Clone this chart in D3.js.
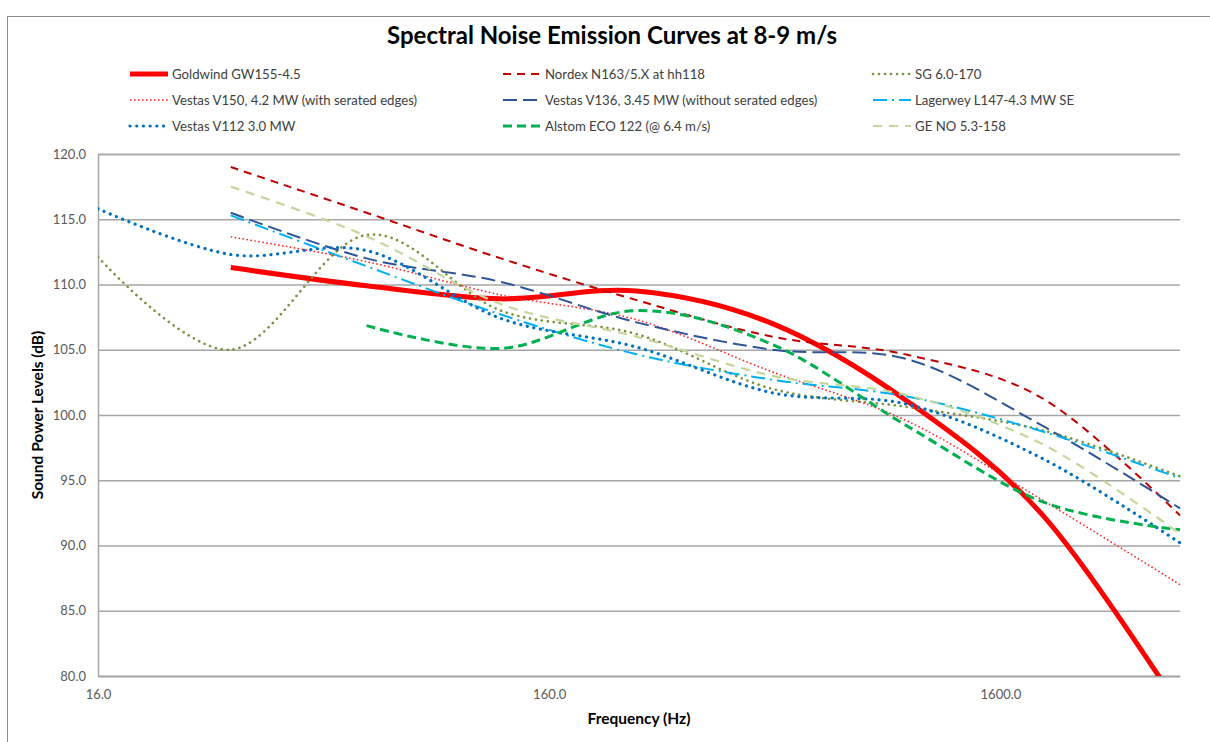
<!DOCTYPE html>
<html>
<head>
<meta charset="utf-8">
<script src="https://cdn.jsdelivr.net/npm/d3@7"></script>
<style>
  html, body { margin: 0; padding: 0; background: #fff; }
  svg { display: block; }
  text { font-family: Lato, "Open Sans", sans-serif; }
</style>
</head>
<body>
<svg id="chart" width="1210" height="742"></svg>
<script>
// ---------- data ----------
const frequencies = [16, 31.5, 63, 125, 250, 500, 1000, 2000, 4000];
const xTickValues = [16, 160, 1600];
const yTickValues = [80, 85, 90, 95, 100, 105, 110, 115, 120];

const seriesNames = [
  "Goldwind GW155-4.5",
  "Nordex N163/5.X at hh118",
  "SG 6.0-170",
  "Vestas V150, 4.2 MW (with serated edges)",
  "Vestas V136, 3.45 MW (without serated edges)",
  "Lagerwey L147-4.3 MW SE",
  "Vestas V112 3.0 MW",
  "Alstom ECO 122 (@ 6.4 m/s)",
  "GE NO 5.3-158"
];

const goldwind = [null, 111.3, 109.9, 108.9, 109.5, 107.0, 101.0, 92.2, 77.5];
const nordex   = [null, 119.0, 115.5, 112.0, 108.8, 106.0, 104.6, 101.2, 92.3];
const sg       = [112.1, 105.0, 113.8, 108.0, 106.2, 102.0, 100.6, 98.8, 95.3];
const v150     = [null, 113.65, 111.75, 109.2, 107.3, 103.3, 99.5, 93.4, 87.0];
const v136     = [null, 115.5, 112.0, 110.2, 107.1, 105.0, 104.25, 99.1, 92.85];
const lagerwey = [null, 115.3, 111.4, 107.7, 104.65, 102.7, 101.4, 98.7, 95.15];
const v112     = [115.8, 112.3, 112.6, 107.4, 105.2, 101.7, 100.8, 96.6, 90.2];
const alstom   = [null, null, 106.85, 105.1, 108.0, 105.4, 99.1, 93.3, 91.2];
const geNO     = [null, 117.5, 113.7, 108.5, 106.0, 103.0, 101.5, 97.7, 90.9];

const seriesValues = [goldwind, nordex, sg, v150, v136, lagerwey, v112, alstom, geNO];

// ---------- styles ----------
const styles = [
  { color: "#FF0000", width: 5,   dash: null,            cap: "butt"  },
  { color: "#C00000", width: 2,   dash: "8,6",           cap: "butt"  },
  { color: "#77933C", width: 2.6, dash: "0.1,5.9",       cap: "round" },
  { color: "#FF2020", width: 1.5, dash: "1.6,2.4",       cap: "butt"  },
  { color: "#2F5597", width: 2,   dash: "14,6",          cap: "butt"  },
  { color: "#00B0F0", width: 2,   dash: "14,5,2,5",      cap: "butt"  },
  { color: "#0070C0", width: 3.2, dash: "0.1,6.6",       cap: "round" },
  { color: "#00B050", width: 3,   dash: "9,5",           cap: "butt"  },
  { color: "#C3D69B", width: 2.2, dash: "9,7",           cap: "butt"  }
];

// ---------- layout ----------
const svg = d3.select("#chart");
const plot = { left: 98, right: 1180, top: 154, bottom: 676 };

const x = d3.scaleLog().domain([16, 4000]).range([plot.left, plot.right]);
const y = d3.scaleLinear().domain([80, 120]).range([plot.bottom, plot.top]);

// chart area border
svg.append("rect")
  .attr("x", 7.5).attr("y", 16.5)
  .attr("width", 1230).attr("height", 760)
  .attr("fill", "none").attr("stroke", "#8c8c8c").attr("stroke-width", 1);

// title
svg.append("text")
  .attr("x", 612).attr("y", 44)
  .attr("text-anchor", "middle")
  .attr("font-size", 24).attr("font-weight", "bold").attr("fill", "#000")
  .text("Spectral Noise Emission Curves at 8-9 m/s");

// gridlines + axes
const yAxis = d3.axisLeft(y).tickValues(yTickValues).tickFormat(d3.format(".1f"))
  .tickSize(-(plot.right - plot.left)).tickPadding(12);
const gy = svg.append("g").attr("transform", `translate(${plot.left},0)`).call(yAxis);
gy.select(".domain").attr("stroke", "#a6a6a6").attr("stroke-width", 1.5);
gy.selectAll(".tick line").attr("stroke", "#a6a6a6").attr("stroke-width", 1.5);
gy.selectAll(".tick text").attr("font-size", 13).attr("fill", "#595959")
  .attr("font-family", "Lato, sans-serif");

const xAxis = d3.axisBottom(x).tickValues(xTickValues).tickFormat(d3.format(".1f"))
  .tickSize(0).tickPadding(14);
const gx = svg.append("g").attr("transform", `translate(0,${plot.bottom})`).call(xAxis);
gx.select(".domain").attr("stroke", "#a6a6a6").attr("stroke-width", 1.5);
gx.selectAll(".tick text").attr("font-size", 13).attr("fill", "#595959")
  .attr("font-family", "Lato, sans-serif");

// axis titles
svg.append("text")
  .attr("transform", `translate(43,${(plot.top + plot.bottom) / 2}) rotate(-90)`)
  .attr("text-anchor", "middle")
  .attr("font-size", 15.5).attr("font-weight", "bold").attr("fill", "#000")
  .text("Sound Power Levels (dB)");
svg.append("text")
  .attr("x", (plot.left + plot.right) / 2).attr("y", 724)
  .attr("text-anchor", "middle")
  .attr("font-size", 15.5).attr("font-weight", "bold").attr("fill", "#000")
  .text("Frequency (Hz)");

// clip
svg.append("defs").append("clipPath").attr("id", "plotclip")
  .append("rect")
  .attr("x", plot.left).attr("y", plot.top - 5)
  .attr("width", plot.right - plot.left + 4).attr("height", plot.bottom - plot.top + 5);

const line = d3.line()
  .defined(d => d.v !== null)
  .x(d => x(d.f)).y(d => y(d.v))
  .curve(d3.curveCatmullRom.alpha(0));

const gLines = svg.append("g").attr("clip-path", "url(#plotclip)");
seriesValues.forEach((vals, i) => {
  const pts = frequencies.map((f, j) => ({ f, v: vals[j] })).filter(d => d.v !== null);
  const s = styles[i];
  gLines.append("path")
    .datum(pts)
    .attr("d", line)
    .attr("fill", "none")
    .attr("stroke", s.color)
    .attr("stroke-width", s.width)
    .attr("stroke-dasharray", s.dash)
    .attr("stroke-linecap", s.cap)
    .attr("stroke-linejoin", "round");
});

// legend
const legendCols = [130, 503, 873];
const legendRows = [74, 100, 126];
seriesNames.forEach((name, i) => {
  const col = i % 3, row = Math.floor(i / 3);
  const lx = legendCols[col], ly = legendRows[row];
  const s = styles[i];
  const g = svg.append("g");
  g.append("line")
    .attr("x1", lx).attr("x2", lx + 38).attr("y1", ly).attr("y2", ly)
    .attr("stroke", s.color).attr("stroke-width", s.width)
    .attr("stroke-dasharray", s.dash).attr("stroke-linecap", s.cap);
  g.append("text")
    .attr("x", lx + 42).attr("y", ly + 4.5)
    .attr("font-size", 13.2).attr("fill", "#404040")
    .text(name);
});
</script>
</body>
</html>
